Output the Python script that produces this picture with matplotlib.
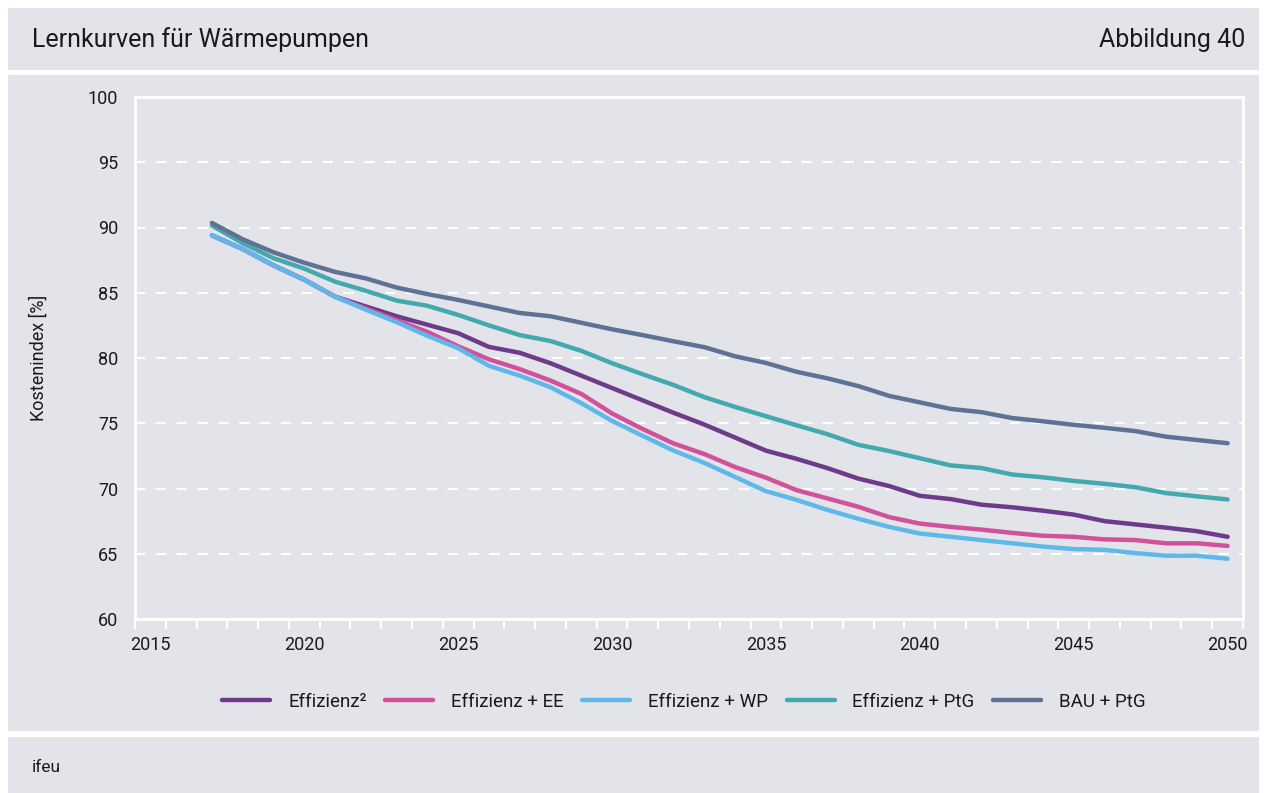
import matplotlib
matplotlib.use("Agg")
import matplotlib.pyplot as plt
from matplotlib.patches import Rectangle
from matplotlib.ticker import MultipleLocator, FixedLocator

plt.rcParams['font.family'] = ['Roboto', 'DejaVu Sans']

# data (cost index in %)
years = list(range(2017, 2051))
effizienz2 = [89.4, 88.35, 87.1, 86.0, 84.7, 83.95, 83.2, 82.55, 81.9, 80.85,
              80.4, 79.6, 78.65, 77.7, 76.75, 75.8, 74.9, 73.9, 72.9, 72.27,
              71.56, 70.76, 70.19, 69.44, 69.19, 68.76, 68.56, 68.3, 68.0, 67.5,
              67.25, 67.0, 66.73, 66.3]
effizienz_ee = [89.4, 88.35, 87.1, 86.0, 84.7, 83.8, 82.9, 82.0, 80.9, 79.9,
                79.15, 78.27, 77.25, 75.75, 74.55, 73.45, 72.64, 71.64, 70.83, 69.87,
                69.24, 68.6, 67.81, 67.31, 67.06, 66.85, 66.6, 66.38, 66.3, 66.1,
                66.05, 65.8, 65.8, 65.6]
effizienz_wp = [89.4, 88.35, 87.1, 86.0, 84.7, 83.7, 82.75, 81.7, 80.75, 79.4,
                78.65, 77.76, 76.54, 75.18, 74.03, 72.9, 71.96, 70.88, 69.8, 69.12,
                68.36, 67.68, 67.06, 66.55, 66.3, 66.05, 65.8, 65.55, 65.36, 65.3,
                65.05, 64.85, 64.85, 64.62]
effizienz_ptg = [90.15, 88.8, 87.65, 86.85, 85.85, 85.15, 84.4, 84.0, 83.3, 82.5,
                 81.76, 81.3, 80.55, 79.6, 78.75, 77.93, 77.0, 76.25, 75.54, 74.84,
                 74.16, 73.35, 72.87, 72.32, 71.77, 71.57, 71.07, 70.86, 70.58, 70.36,
                 70.1, 69.65, 69.4, 69.16]
bau_ptg = [90.35, 89.1, 88.1, 87.3, 86.6, 86.1, 85.4, 84.9, 84.45, 83.95,
           83.45, 83.2, 82.7, 82.2, 81.75, 81.28, 80.83, 80.13, 79.62, 78.94,
           78.44, 77.85, 77.1, 76.6, 76.1, 75.85, 75.4, 75.15, 74.88, 74.65,
           74.4, 73.97, 73.72, 73.47]

series = [
    ('Effizienz²', effizienz2, '#6e3a8b'),
    ('Effizienz + EE', effizienz_ee, '#d2519b'),
    ('Effizienz + WP', effizienz_wp, '#5fb8ea'),
    ('Effizienz + PtG', effizienz_ptg, '#42a9ae'),
    ('BAU + PtG', bau_ptg, '#5e7295'),
]

panel = '#e3e4e9'
txt = '#1a1a1a'
W, H = 1267, 793

fig = plt.figure(figsize=(W / 100, H / 100), dpi=100, facecolor='white')

# grey panels: header, chart, footer (behind the axes)
for top, bottom in [(8, 70), (75, 731), (737, 793)]:
    fig.patches.append(Rectangle((8 / W, 1 - bottom / H), (W - 16) / W, (bottom - top) / H,
                                 transform=fig.transFigure, facecolor=panel,
                                 edgecolor='none', zorder=-5))

fig.text(32 / W, 1 - 40 / H, 'Lernkurven für Wärmepumpen', fontsize=18,
         color=txt, va='center', ha='left')
fig.text(1245 / W, 1 - 40 / H, 'Abbildung 40', fontsize=18,
         color=txt, va='center', ha='right')
fig.text(32 / W, 1 - 768 / H, 'ifeu', fontsize=12.5, color=txt, va='center', ha='left')

ax = fig.add_axes([135 / W, 1 - 619 / H, (1243 - 135) / W, (619 - 97) / H])
ax.set_zorder(2)
ax.set_facecolor(panel)

for name, vals, col in series:
    ax.plot(years, vals, color=col, linewidth=3.2, label=name, solid_capstyle='round', zorder=3)

ax.set_xlim(2014.5, 2050.5)
ax.set_ylim(60, 100)
ax.xaxis.set_major_locator(FixedLocator(list(range(2015, 2051, 5))))
ax.xaxis.set_minor_locator(MultipleLocator(1, offset=0.5))
ax.yaxis.set_major_locator(MultipleLocator(5))
ax.tick_params(axis='x', which='major', length=0, pad=12, labelsize=13, labelcolor=txt)
ax.tick_params(axis='x', which='minor', length=7, width=1.5, color='white', direction='out')
ax.tick_params(axis='y', length=0, pad=12, labelsize=13, labelcolor=txt)

for yv in range(65, 100, 5):
    ax.axhline(yv, color='white', linewidth=1.5, linestyle=(0, (5, 5)), zorder=1)

for sp in ax.spines.values():
    sp.set_color('white')
    sp.set_linewidth(2)

ax.set_ylabel('Kostenindex [%]', fontsize=13, color=txt)
ax.yaxis.set_label_coords((48 - 135) / 1108, 0.5)

fig.legend(loc='center', bbox_to_anchor=(684 / W, 1 - 702 / H), ncol=5, frameon=False,
           fontsize=13.5, handlelength=2.55, handletextpad=0.95, columnspacing=1.0,
           labelcolor=txt)

fig.savefig('out.png', dpi=100, facecolor='white')
